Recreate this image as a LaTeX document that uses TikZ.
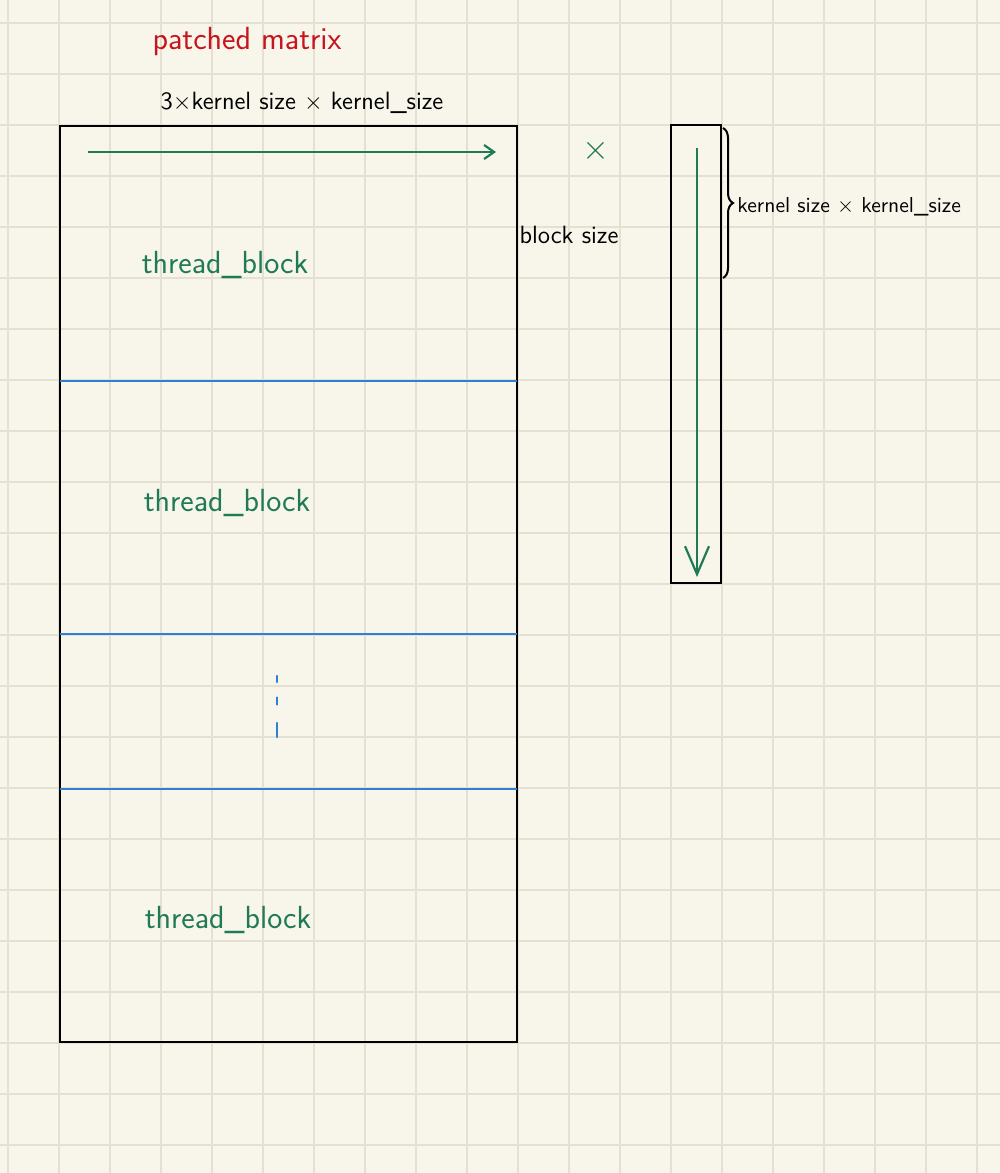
\documentclass[tikz,border=0pt]{standalone}
\usepackage{amsmath}
\usepackage{amssymb}
\usepackage{xcolor}
\usetikzlibrary{arrows.meta,decorations.pathreplacing}
\definecolor{paper}{HTML}{F8F6EA}
\definecolor{gridline}{HTML}{E4E0D2}
\definecolor{inkgreen}{HTML}{1F7A55}
\definecolor{inkred}{HTML}{C8141E}
\definecolor{inkblue}{HTML}{2C80D6}

\begin{document}
\begin{tikzpicture}[x=0.5pt,y=-0.5pt,
		hand/.style={inner sep=0pt, font=\sffamily\fontsize{12.5}{14}\selectfont},
		handsmall/.style={inner sep=0pt, font=\sffamily\fontsize{10.8}{13}\selectfont},
		handbig/.style={inner sep=0pt, font=\sffamily\fontsize{16}{18}\selectfont},
		box/.style={draw=black, line width=1.4pt},
		split/.style={inkblue, line width=1pt},
		flow/.style={inkgreen, line width=1.1pt}]
		\fill[paper] (0,0) rectangle (1000,1173);
		\useasboundingbox (0,0) rectangle (1000,1173);
		\foreach \i in {0,...,19} \draw[gridline, line width=1.2pt] ({8+51*\i},0) -- ({8+51*\i},1173);
		\foreach \j in {0,...,22} \draw[gridline, line width=1.2pt] (0,{23+51*\j}) -- (1000,{23+51*\j});

		% patched matrix
		\coordinate (pm nw) at (60,126);
		\coordinate (pm se) at (517,1042);
		\draw[box] (pm nw) rectangle (pm se);
		\draw[split] (60,381) -- (517,381) (60,634) -- (517,634) (60,789) -- (517,789);
		\coordinate (row start) at (88,152);
		\coordinate (row end) at (496,152);
		\draw[flow, -{Straight Barb[length=5pt, width=7pt]}] (row start) -- (row end);
		\node[handbig, inkred] (title) at (247,42) {patched matrix};
		\node[hand] (width) at (302,103) {3$\times$kernel size $\times$ kernel\_size};
		\node[handbig, inkgreen] (tb1) at (225,265) {thread\_block};
		\node[handbig, inkgreen] (tb2) at (227,503) {thread\_block};
		\node[handbig, inkgreen] (tb3) at (228,920) {thread\_block};
		\foreach \y/\l in {679/6, 701/7, 730/14} \draw[split, line width=1.2pt, line cap=round] (277,{\y-\l/2}) -- (277,{\y+\l/2});
		\node[hand] (bsize) at (569,235) {block size};
		\node[handbig, inkgreen] (times) at (596,151) {$\times$};

		% kernel column
		\coordinate (col nw) at (671,125);
		\coordinate (col se) at (721,583);
		\draw[box] (col nw) rectangle (col se);
		\coordinate (col top) at (697,148);
		\coordinate (col bottom) at (697,577);
		\draw[flow, -{Straight Barb[length=14pt, width=12pt]}] (col top) -- (col bottom);
		\coordinate (brace top) at (723,128);
		\coordinate (brace bottom) at (723,278);
		\draw[line width=1pt, decorate, decoration={brace, amplitude=5pt}] (brace top) -- (brace bottom);
		\node[handsmall, anchor=west] (ksize) at (737,207) {kernel size $\times$ kernel\_size};
	\end{tikzpicture}
\end{document}
